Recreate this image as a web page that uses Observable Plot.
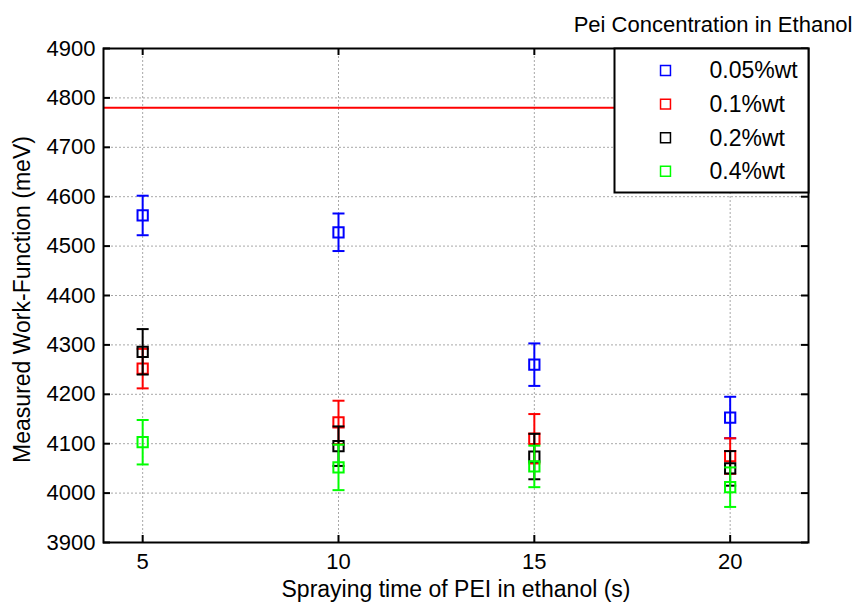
<!DOCTYPE html>
<html><head><meta charset="utf-8">
<script src="https://cdn.jsdelivr.net/npm/d3@7"></script>
<script src="https://cdn.jsdelivr.net/npm/@observablehq/plot@0.6"></script>
<style>body{margin:0;background:#fff;} svg{display:block;}</style>
</head><body><div id="chart"></div>
<script>
const times = [5, 10, 15, 20];
const seriesNames = ["0.05%wt", "0.1%wt", "0.2%wt", "0.4%wt"];
const seriesColors = ["#0000ff", "#ff0000", "#000000", "#00ff00"];
const wf005 = [4562, 4528, 4260, 4153];
const err005 = [40, 38, 43, 42];
const wf01 = [4252, 4143, 4110, 4075];
const err01 = [40, 44, 50, 36];
const wf02 = [4286, 4095, 4074, 4050];
const err02 = [46, 40, 46, 35];
const wf04 = [4103, 4052, 4054, 4012];
const err04 = [45, 46, 42, 40];
const referenceLevel = [4780];
const xTicks = [5, 10, 15, 20];
const yTicks = [3900, 4000, 4100, 4200, 4300, 4400, 4500, 4600, 4700, 4800, 4900];
const xDomain = [4, 22];
const yDomain = [3900, 4900];
const titleText = "Pei Concentration in Ethanol";
const xLabel = "Spraying time of PEI in ethanol (s)";
const yLabel = "Measured Work-Function (meV)";

const seriesValues = [wf005, wf01, wf02, wf04];
const seriesErrors = [err005, err01, err02, err04];

const W = 861, H = 605;
const mL = 103, mR = 53, mT = 48, mB = 63;
const fw = W - mL - mR, fh = H - mT - mB;

const capSymbol = {draw(ctx) { ctx.moveTo(-6, 0); ctx.lineTo(6, 0); }};

const marks = [];
// grid
marks.push(Plot.ruleX(xTicks, {x: d => d, stroke: "#a8a8a8", strokeWidth: 1, strokeDasharray: "2,2", strokeOpacity: 1}));
marks.push(Plot.ruleY(yTicks, {y: d => d, stroke: "#a8a8a8", strokeWidth: 1, strokeDasharray: "2,2", strokeOpacity: 1}));
// reference line
marks.push(Plot.ruleY(referenceLevel, {y: d => d, stroke: "#ff0000", strokeWidth: 2}));

seriesNames.forEach((name, i) => {
  const rows = times.map((t, j) => ({t, v: seriesValues[i][j], lo: seriesValues[i][j] - seriesErrors[i][j], hi: seriesValues[i][j] + seriesErrors[i][j]}));
  const c = seriesColors[i];
  marks.push(Plot.ruleX(rows, {x: "t", y1: "lo", y2: "hi", stroke: c, strokeWidth: 2}));
  marks.push(Plot.dot(rows, {x: "t", y: "lo", symbol: capSymbol, r: 6, stroke: c, strokeWidth: 2, fill: "none"}));
  marks.push(Plot.dot(rows, {x: "t", y: "hi", symbol: capSymbol, r: 6, stroke: c, strokeWidth: 2, fill: "none"}));
  marks.push(Plot.dot(rows, {x: "t", y: "v", symbol: "square", r: 5.8, stroke: c, strokeWidth: 2, fill: "none"}));
});

// frame and inward ticks
marks.push(Plot.frame({stroke: "black", strokeWidth: 2}));
marks.push(Plot.tickX(xTicks, {x: d => d, insetTop: fh - 7, stroke: "black", strokeWidth: 2}));
marks.push(Plot.tickX(xTicks, {x: d => d, insetBottom: fh - 7, stroke: "black", strokeWidth: 2}));
marks.push(Plot.tickY(yTicks, {y: d => d, insetRight: fw - 7, stroke: "black", strokeWidth: 2}));
marks.push(Plot.tickY(yTicks, {y: d => d, insetLeft: fw - 7, stroke: "black", strokeWidth: 2}));

// legend box
marks.push(Plot.frame({fill: "white", stroke: "black", strokeWidth: 2, insetLeft: 511, insetBottom: fh - 144}));
seriesNames.forEach((name, i) => {
  marks.push(Plot.dot([name], {frameAnchor: "top-right", dx: -143, dy: 22 + i * 33.6, symbol: "square", r: 5.6, stroke: seriesColors[i], strokeWidth: 1.5, fill: "none"}));
  marks.push(Plot.text([name], {text: d => d, frameAnchor: "top-right", dx: -99, dy: 22.5 + i * 33.6, textAnchor: "start", lineAnchor: "middle", fontSize: 23, fill: "black"}));
});

// title and axis labels
marks.push(Plot.text([titleText], {text: d => d, frameAnchor: "top-right", textAnchor: "end", lineAnchor: "middle", dx: 44, dy: -24, fontSize: 22, fill: "black"}));
marks.push(Plot.text([xLabel], {text: d => d, frameAnchor: "bottom", textAnchor: "middle", lineAnchor: "middle", dy: 47, fontSize: 23, fill: "black"}));
marks.push(Plot.text([yLabel], {text: d => d, frameAnchor: "left", rotate: -90, textAnchor: "middle", lineAnchor: "middle", dx: -80.5, dy: 4, fontSize: 23, fill: "black"}));

const chart = Plot.plot({
  width: W, height: H,
  marginLeft: mL, marginRight: mR, marginTop: mT, marginBottom: mB,
  style: {fontSize: "22px", fontFamily: "'Liberation Sans', Arial, sans-serif", color: "black", background: "white", overflow: "visible"},
  x: {domain: xDomain, ticks: xTicks, tickSize: 0, tickPadding: 11, label: null, tickFormat: d3.format("d")},
  y: {domain: yDomain, ticks: yTicks, tickSize: 0, tickPadding: 8, label: null, tickFormat: d3.format("d")},
  marks
});
document.getElementById("chart").appendChild(chart);
</script>
</body></html>
